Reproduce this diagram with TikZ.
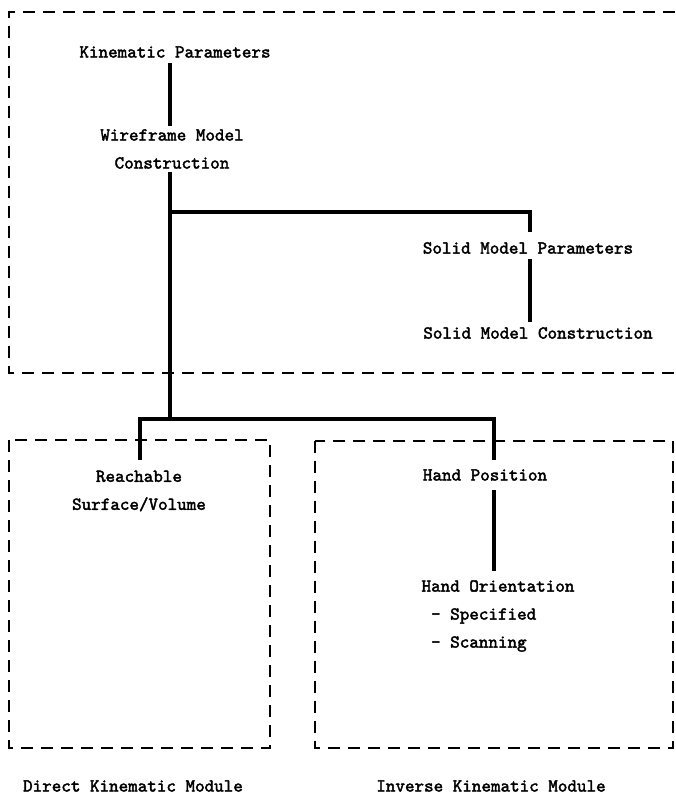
\documentclass[tikz,border=0pt]{standalone}
\usepackage{fontspec}
\newfontfamily\tyfont{lmmono10-regular.otf}[AutoFakeBold=2.2]
\begin{document}
\begin{tikzpicture}[x=1pt,y=-1pt,
  every node/.style={font=\tyfont\bfseries\fontsize{18.2}{28}\selectfont, inner sep=3pt},
  link/.style={line width=3.2pt},
  modbox/.style={dashed, dash pattern=on 12pt off 8pt, line width=1.6pt}]
\useasboundingbox (0,0) rectangle (675,798);
% module boxes
\draw[modbox] (675,12) -- (9,12) -- (9,373) -- (675,373);
\draw[modbox] (9,440) rectangle (270,748);
\draw[modbox] (315,441) rectangle (673,748);
% nodes
\node (kp) at (175,52) {Kinematic Parameters};
\node[align=center] (wf) at (172,149) {Wireframe Model\\Construction};
\node (smp) at (528,248) {Solid Model Parameters};
\node (smc) at (538,333) {Solid Model Construction};
\node[align=center] (reach) at (139,491) {Reachable\\Surface/Volume};
\node (hp) at (485,475) {Hand Position};
\node[align=left] (ho) at (498,616) {Hand Orientation\\\ - Specified\\\ - Scanning};
\node (dkm) at (133,786) {Direct Kinematic Module};
\node (ikm) at (491,786) {Inverse Kinematic Module};
% junction coordinates
\coordinate (j1) at (170,212);
\coordinate (j2) at (170,419);
% connectors
\draw[link] (170,63) coordinate (a1) -- (a1 |- wf.north);
\draw[link] (j1 |- wf.south) -- (j2);
\draw[link] (j1) -| (530,232) coordinate (a2);
\draw[link] (530,259) -- (530,322);
\draw[link] (140,460) -- (140,419) -- (494,419) -- (494,460);
\draw[link] (494,490) -- (494,571);
\end{tikzpicture}
\end{document}
